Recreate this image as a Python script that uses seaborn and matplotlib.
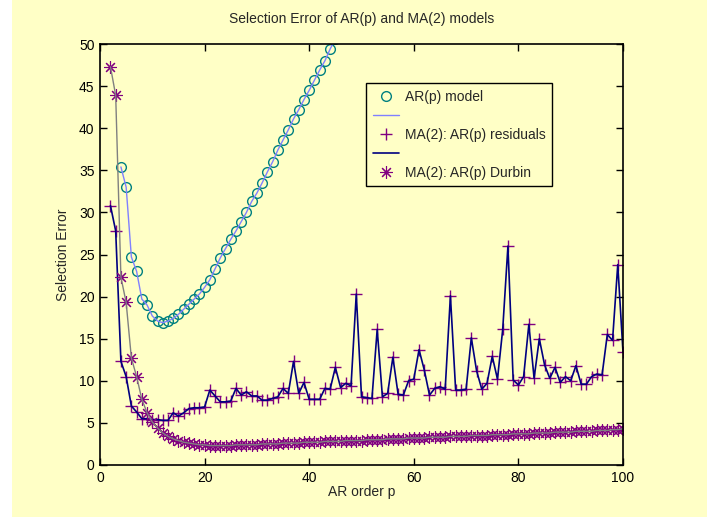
import numpy as np
import pandas as pd
import matplotlib
matplotlib.use('Agg')
import matplotlib.pyplot as plt
from matplotlib.lines import Line2D
from matplotlib.patches import Rectangle
import seaborn as sns

# values
ar_order = list(range(4, 46))
ar_model = [35.4, 33.0, 24.7, 23.0, 19.7, 19.0, 17.7, 17.1, 16.9, 17.1,
            17.4, 17.9, 18.5, 19.1, 19.7, 20.3, 21.1, 22.0, 23.3, 24.6,
            25.7, 26.8, 27.8, 28.9, 30.0, 31.3, 32.3, 33.5, 34.8, 36.0,
            37.4, 38.6, 39.8, 41.1, 42.2, 43.4, 44.5, 45.7, 46.9, 48.0,
            49.4, 50.6]

ma_order = list(range(2, 101))
ma_residuals = [30.8, 27.8, 12.3, 10.5, 7.0, 6.3, 5.5, 5.5, 5.4, 5.4,
                5.3, 5.3, 6.2, 5.8, 6.2, 6.7, 6.8, 6.8, 6.9, 8.9,
                8.2, 7.5, 7.5, 7.6, 9.1, 8.3, 8.7, 8.2, 8.2, 7.7,
                7.7, 7.9, 8.1, 9.1, 8.5, 12.3, 8.5, 9.8, 7.8, 7.8,
                7.8, 9.1, 9.0, 11.6, 9.2, 9.7, 9.4, 20.3, 8.1, 8.0,
                7.9, 16.1, 8.1, 8.5, 12.8, 8.4, 8.3, 10.0, 10.2, 13.7,
                11.3, 8.3, 9.1, 9.3, 9.0, 20.1, 8.9, 8.9, 9.0, 15.1,
                11.2, 9.0, 9.7, 12.9, 10.2, 16.1, 26.0, 10.1, 9.5, 10.5,
                16.7, 10.3, 15.0, 11.9, 10.3, 11.6, 9.8, 10.5, 10.0, 11.8,
                9.6, 9.6, 10.5, 10.8, 10.7, 15.5, 14.8, 23.8, 13.4]
ma_durbin = [47.3, 43.9, 22.3, 19.3, 12.7, 10.5, 7.8, 6.2, 5.1, 4.4,
             3.8, 3.4, 3.1, 2.9, 2.7, 2.6, 2.5, 2.4, 2.4, 2.3,
             2.3, 2.3, 2.3, 2.3, 2.4, 2.4, 2.4, 2.4, 2.4, 2.5,
             2.5, 2.5, 2.5, 2.6, 2.6, 2.6, 2.6, 2.7, 2.7, 2.7,
             2.7, 2.8, 2.8, 2.8, 2.8, 2.9, 2.9, 2.9, 2.9, 3.0,
             3.0, 3.0, 3.0, 3.1, 3.1, 3.1, 3.1, 3.2, 3.2, 3.2,
             3.2, 3.3, 3.3, 3.3, 3.3, 3.4, 3.4, 3.4, 3.4, 3.5,
             3.5, 3.5, 3.5, 3.6, 3.6, 3.6, 3.6, 3.7, 3.7, 3.7,
             3.7, 3.8, 3.8, 3.8, 3.8, 3.9, 3.9, 3.9, 3.9, 4.0,
             4.0, 4.0, 4.0, 4.1, 4.1, 4.1, 4.2, 4.2, 4.3]

labels = ['AR(p) model', 'MA(2): AR(p) residuals', 'MA(2): AR(p) Durbin']

ar_df = pd.DataFrame({'p': ar_order, 'err': ar_model})
ma_df = pd.DataFrame({'p': ma_order, 'res': ma_residuals, 'durbin': ma_durbin})

bg = '#FFFFC6'
teal = '#008080'
light_blue = '#8080FF'
purple = '#800080'
navy = '#000080'
grey = '#808080'
star = (8, 2, 0)

sns.set_style('ticks')
plt.rcParams['font.family'] = ['Liberation Sans', 'DejaVu Sans']
plt.rcParams['font.size'] = 10

fig = plt.figure(figsize=(7.07, 5.17), dpi=100, facecolor='white')
# yellow figure area, with the thin white strip on the left
fig.add_artist(Rectangle((12 / 707, 0), 1, 1, transform=fig.transFigure,
                         facecolor=bg, edgecolor='none', zorder=-10))
ax = fig.add_axes([100 / 707, 52 / 517, 523 / 707, 421 / 517])
ax.set_facecolor(bg)

sns.lineplot(data=ar_df, x='p', y='err', ax=ax, linestyle='none', marker='o',
             markersize=7, markerfacecolor='none', markeredgecolor=teal,
             markeredgewidth=1.0)
sns.lineplot(data=ar_df, x='p', y='err', ax=ax, color=light_blue, linewidth=1.0)
sns.lineplot(data=ma_df, x='p', y='res', ax=ax, linestyle='none', marker='+',
             markersize=8, markeredgecolor=purple, markeredgewidth=1.0)
sns.lineplot(data=ma_df, x='p', y='res', ax=ax, color=navy, linewidth=1.2)
sns.lineplot(data=ma_df, x='p', y='durbin', ax=ax, linestyle='none', marker=star,
             markersize=9, markeredgecolor=purple, markerfacecolor=purple,
             markeredgewidth=0.8)
sns.lineplot(data=ma_df, x='p', y='durbin', ax=ax, color=grey, linewidth=1.0)

ax.set_xlim(0, 100)
ax.set_ylim(0, 50)
ax.set_xticks(range(0, 101, 20))
ax.set_yticks(range(0, 51, 5))
ax.tick_params(direction='in', top=True, right=True, length=5, width=1,
               labelsize=10, colors='black', pad=4)
for s in ax.spines.values():
    s.set_visible(True)
    s.set_linewidth(1.2)
    s.set_color('black')

ax.set_title('Selection Error of AR(p) and MA(2) models', fontsize=10, pad=15)
ax.set_xlabel('AR order p', fontsize=10, labelpad=0)
ax.set_ylabel('Selection Error', fontsize=10, labelpad=6)

handles = [
    Line2D([], [], linestyle='none', marker='o', markersize=7,
           markerfacecolor='none', markeredgecolor=teal),
    Line2D([], [], color=light_blue, linewidth=1.0),
    Line2D([], [], linestyle='none', marker='+', markersize=8,
           markeredgecolor=purple),
    Line2D([], [], color=navy, linewidth=1.2),
    Line2D([], [], linestyle='none', marker=star, markersize=9,
           markeredgecolor=purple, markerfacecolor=purple, markeredgewidth=0.8),
]
leg = ax.legend(handles, [labels[0], '', labels[1], '', labels[2]],
                loc='upper left', bbox_to_anchor=(0.508, 0.907),
                frameon=True, fancybox=False, framealpha=1,
                edgecolor='black', facecolor=bg, fontsize=10,
                handlelength=1.9, handletextpad=0.4, labelspacing=0.35,
                borderpad=0.5, borderaxespad=0)
leg.get_frame().set_linewidth(1.0)

fig.savefig('out.png', dpi=100, facecolor=fig.get_facecolor())
